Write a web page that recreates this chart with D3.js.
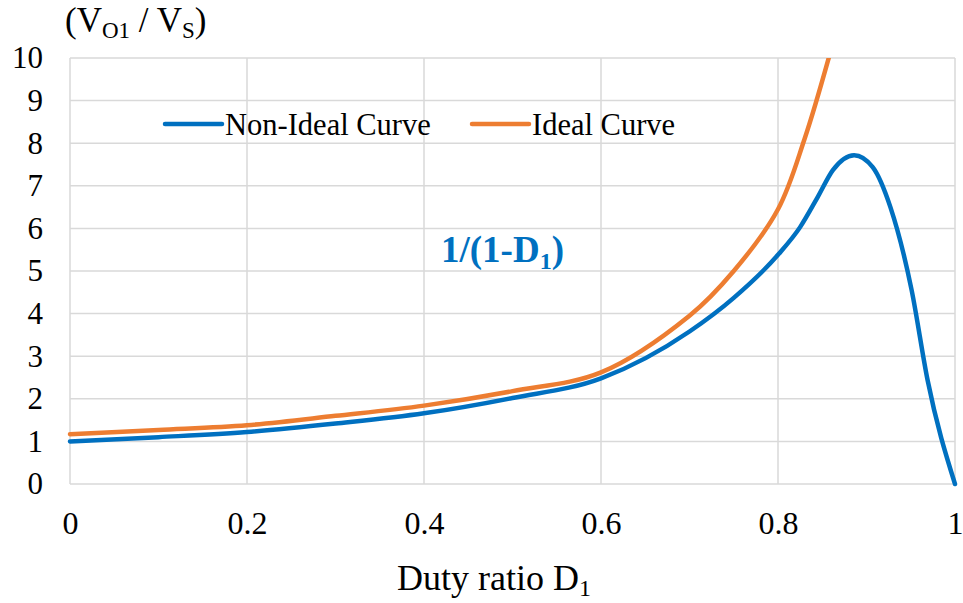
<!DOCTYPE html>
<html>
<head>
<meta charset="utf-8">
<script src="https://cdn.jsdelivr.net/npm/d3@7"></script>
<style>
  html, body { margin: 0; padding: 0; background: #fff; }
  svg { display: block; }
  svg text { font-family: "Liberation Serif", "Times New Roman", serif; }
</style>
</head>
<body>
<svg id="chart" width="963" height="603"></svg>
<script>
// Duty ratio samples and the two gain curves
const dutyNonIdeal = [0, 0.1, 0.2, 0.3, 0.4, 0.5, 0.6, 0.7, 0.75, 0.8, 0.825, 0.845, 0.862, 0.886, 0.907, 0.927, 0.951, 0.969, 1];
const gainNonIdeal = [1.0, 1.1, 1.22, 1.42, 1.66, 2.02, 2.48, 3.58, 4.37, 5.38, 6.03, 6.74, 7.37, 7.72, 7.44, 6.5, 4.55, 2.44, 0];
const dutyIdeal = [0, 0.1, 0.2, 0.3, 0.4, 0.5, 0.6, 0.7, 0.75, 0.8, 0.83, 0.86, 0.88];
const gainIdeal = [1.17, 1.27, 1.38, 1.6, 1.84, 2.18, 2.62, 3.95, 5.0, 6.45, 8.1, 10.2, 11.8];
const xTicks = [0, 0.2, 0.4, 0.6, 0.8, 1];
const yTicks = [0, 1, 2, 3, 4, 5, 6, 7, 8, 9, 10];
const seriesNames = ["Non-Ideal Curve", "Ideal Curve"];
const seriesColors = ["#0070C0", "#ED7D31"];

const svg = d3.select("#chart");
const x = d3.scaleLinear().domain([0, 1]).range([70, 955]);
const y = d3.scaleLinear().domain([0, 10]).range([484, 58]);

// grid
const grid = svg.append("g").attr("stroke", "#d9d9d9").attr("stroke-width", 1.5);
grid.selectAll("line.h").data(yTicks).join("line")
  .attr("x1", x(0)).attr("x2", x(1))
  .attr("y1", d => y(d)).attr("y2", d => y(d));
grid.selectAll("line.v").data(xTicks).join("line")
  .attr("x1", d => x(d)).attr("x2", d => x(d))
  .attr("y1", y(0)).attr("y2", y(10));

// axes (labels only, no domain lines)
const yAxis = svg.append("g").attr("transform", `translate(${x(0)},0)`)
  .call(d3.axisLeft(y).tickValues(yTicks).tickSize(0).tickPadding(27).tickFormat(d3.format("d")));
yAxis.attr("font-family", null).attr("font-size", 31);
yAxis.select(".domain").remove();
yAxis.selectAll("text").attr("fill", "#000");

const xAxis = svg.append("g").attr("transform", `translate(0,${y(0)})`)
  .call(d3.axisBottom(x).tickValues(xTicks).tickSize(0).tickPadding(27)
    .tickFormat(d => d === 0 || d === 1 ? d3.format("d")(d) : d3.format(".1f")(d)));
xAxis.attr("font-family", null).attr("font-size", 32);
xAxis.select(".domain").remove();
xAxis.selectAll("text").attr("fill", "#000");

// clip to plot area
svg.append("clipPath").attr("id", "plot").append("rect")
  .attr("x", x(0) - 5).attr("y", y(10)).attr("width", x(1) - x(0) + 10).attr("height", y(0) - y(10) + 5);

const lineSmooth = d3.line().x(d => x(d[0])).y(d => y(d[1])).curve(d3.curveCatmullRom.alpha(0.5));
const lineMono = d3.line().x(d => x(d[0])).y(d => y(d[1])).curve(d3.curveMonotoneX);
const plot = svg.append("g").attr("clip-path", "url(#plot)");
plot.append("path")
  .datum(dutyIdeal.map((d, i) => [d, gainIdeal[i]]))
  .attr("d", lineSmooth).attr("fill", "none").attr("stroke", seriesColors[1]).attr("stroke-width", 4.5).attr("stroke-linecap", "round");
plot.append("path")
  .datum(dutyNonIdeal.map((d, i) => [d, gainNonIdeal[i]]))
  .attr("d", lineMono).attr("fill", "none").attr("stroke", seriesColors[0]).attr("stroke-width", 4.5).attr("stroke-linecap", "round");

// legend
const legendX = [165, 472];
seriesNames.forEach((name, i) => {
  const g = svg.append("g").attr("transform", `translate(${legendX[i]},124)`);
  g.append("line").attr("x1", 0).attr("x2", 57).attr("y1", 0).attr("y2", 0)
    .attr("stroke", seriesColors[i]).attr("stroke-width", 4.5).attr("stroke-linecap", "round");
  g.append("text").attr("x", 60).attr("y", 11).attr("font-size", 30.5).attr("fill", "#000").text(name);
});

// formula annotation
const ann = svg.append("text").attr("x", 441).attr("y", 262)
  .attr("font-size", 37).attr("font-weight", "bold").attr("fill", "#0070C0");
ann.append("tspan").text("1/(1-D");
ann.append("tspan").attr("font-size", 24).attr("dy", 7).text("1");
ann.append("tspan").attr("dy", -7).text(")");

// y-axis title
const yt = svg.append("text").attr("x", 65).attr("y", 32).attr("font-size", 35).attr("fill", "#000");
yt.append("tspan").text("(V");
yt.append("tspan").attr("font-size", 23).attr("dy", 6).text("O1");
yt.append("tspan").attr("dy", -6).text(" / V");
yt.append("tspan").attr("font-size", 23).attr("dy", 6).text("S");
yt.append("tspan").attr("dy", -6).text(")");

// x-axis title
const xt = svg.append("text").attr("x", 494).attr("y", 590).attr("text-anchor", "middle")
  .attr("font-size", 36).attr("fill", "#000");
xt.append("tspan").text("Duty ratio D");
xt.append("tspan").attr("font-size", 24).attr("dy", 6).text("1");
</script>
</body>
</html>
